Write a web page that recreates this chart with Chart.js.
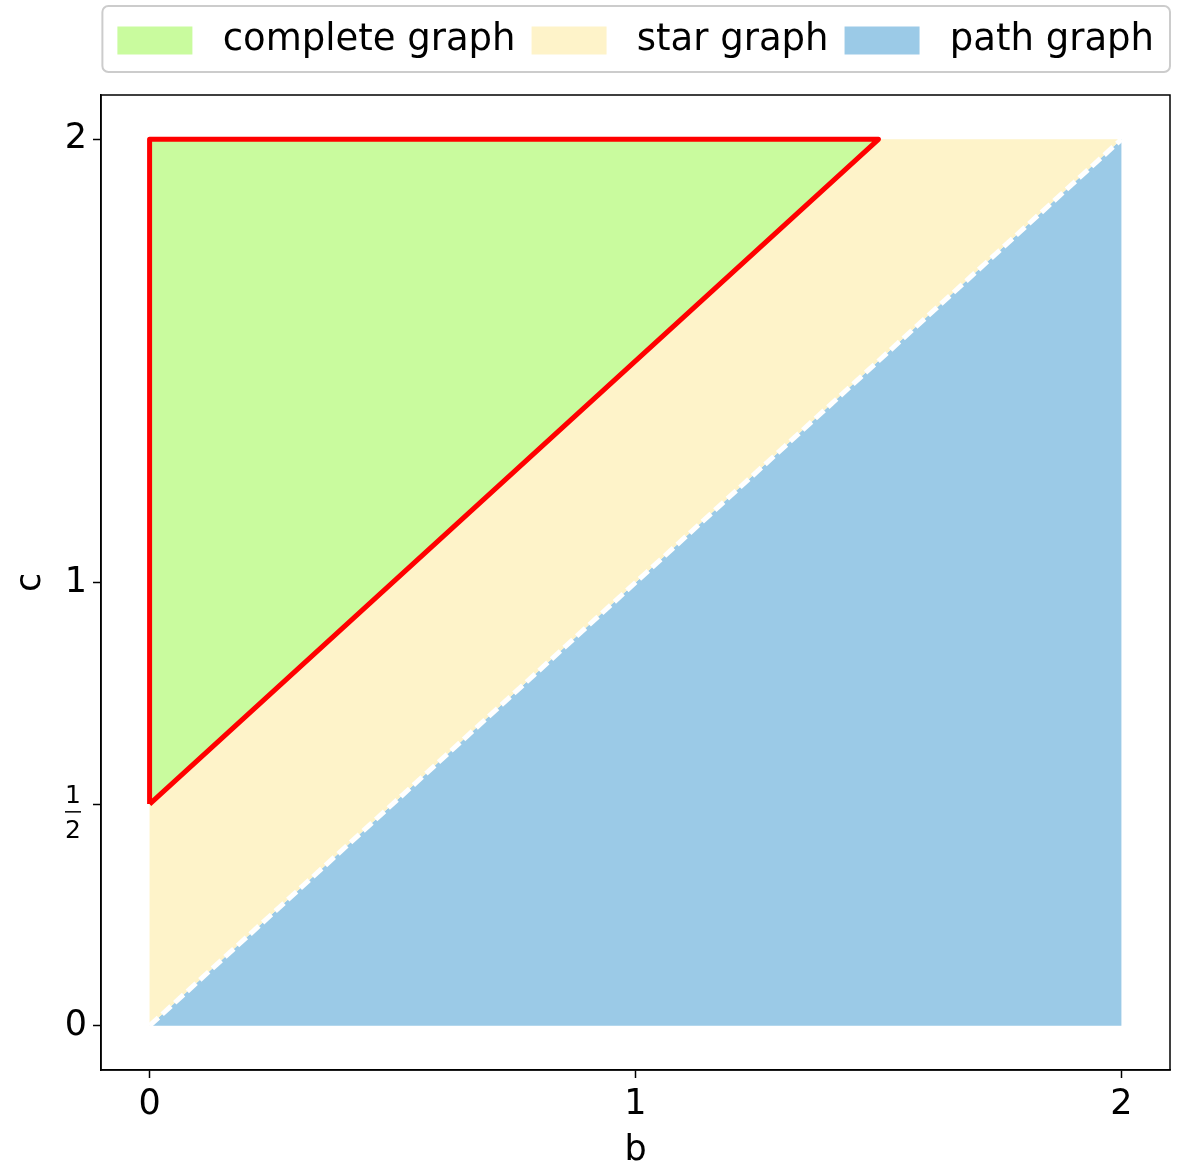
<!DOCTYPE html>
<html>
<head>
<meta charset="utf-8">
<script src="https://cdn.jsdelivr.net/npm/chart.js@4.4.0/dist/chart.umd.min.js"></script>
<style>
  html, body { margin: 0; padding: 0; background: #fff; }
  #wrap { width: 1187px; height: 1172px; }
</style>
</head>
<body>
<div id="wrap"><canvas id="regionChart"></canvas></div>
<script>
// region corners in the (b, c) plane
var completeB = [0, 0, 1.5, 0];
var completeC = [0.5, 2, 2, 0.5];
var starB = [0, 0, 1.5, 2, 0];
var starC = [0, 0.5, 2, 2, 0];
var pathB = [0, 2, 2, 0];
var pathC = [0, 2, 0, 0];
var diagB = [0, 2];
var diagC = [0, 2];

var xTicks = [0, 1, 2];
var yTicks = [0, 0.5, 1, 2];
var labels = ['complete graph', 'star graph', 'path graph'];

function pts(bs, cs) {
  return bs.map(function(b, i) { return {x: b, y: cs[i]}; });
}

var FONT = "'DejaVu Sans', sans-serif";

// extra room under the legend
var legendGap = {
  id: 'legendGap',
  beforeInit: function(chart) {
    var fit = chart.legend.fit;
    chart.legend.fit = function() {
      fit.bind(chart.legend)();
      this.height += 26;
    };
  }
};

// draws the 1/2 tick label, the box frame and the legend frame
var extras = {
  id: 'extras',
  afterDraw: function(chart) {
    var ctx = chart.ctx;
    var a = chart.chartArea;
    ctx.save();
    ctx.strokeStyle = '#000';
    ctx.lineWidth = 1.5;
    ctx.strokeRect(a.left, a.top, a.right - a.left, a.bottom - a.top);

    // fraction label
    var y = chart.scales.y.getPixelForValue(0.5);
    ctx.fillStyle = '#000';
    ctx.font = '25px ' + FONT;
    ctx.textAlign = 'center';
    ctx.textBaseline = 'alphabetic';
    ctx.fillText('1', 73, y - 1);
    ctx.fillText('2', 73, y + 34);
    ctx.fillRect(65, y + 7, 16, 1.5);

    // legend frame
    var boxes = chart.legend.legendHitBoxes;
    if (boxes && boxes.length) {
      var last = boxes[boxes.length - 1];
      var l = boxes[0].left - 15, r = last.left + last.width + 16;
      ctx.strokeStyle = '#cccccc';
      ctx.lineWidth = 2;
      ctx.beginPath();
      ctx.roundRect(l, 6, r - l, 66, 6);
      ctx.stroke();
    }
    ctx.restore();
  }
};

var ctx = document.getElementById('regionChart');
var regionChart = new Chart(ctx, {
  type: 'scatter',
  data: {
    datasets: [
      {
        label: 'outline',
        data: pts(completeB, completeC),
        showLine: true,
        fill: false,
        borderColor: '#ff0000',
        borderWidth: 5,
        borderJoinStyle: 'round',
        pointRadius: 0,
        order: 0
      },
      {
        label: 'diagonal',
        data: pts(diagB, diagC),
        showLine: true,
        fill: false,
        borderColor: '#ffffff',
        borderWidth: 5,
        borderDash: [12, 5],
        pointRadius: 0,
        order: 1
      },
      {
        label: labels[0],
        data: pts(completeB, completeC),
        showLine: true,
        fill: 'shape',
        backgroundColor: '#c9fb9e',
        borderColor: 'rgba(0,0,0,0)',
        borderWidth: 0,
        pointRadius: 0,
        order: 2
      },
      {
        label: labels[1],
        data: pts(starB, starC),
        showLine: true,
        fill: 'shape',
        backgroundColor: '#fef3c9',
        borderColor: 'rgba(0,0,0,0)',
        borderWidth: 0,
        pointRadius: 0,
        order: 3
      },
      {
        label: labels[2],
        data: pts(pathB, pathC),
        showLine: true,
        fill: 'shape',
        backgroundColor: '#9bcae7',
        borderColor: 'rgba(0,0,0,0)',
        borderWidth: 0,
        pointRadius: 0,
        order: 4
      }
    ]
  },
  options: {
    responsive: true,
    maintainAspectRatio: false,
    animation: false,
    layout: { padding: { top: 6, right: 17, left: 10, bottom: 0 } },
    plugins: {
      tooltip: { enabled: false },
      filler: { drawTime: 'beforeDatasetsDraw' },
      legend: {
        position: 'top',
        align: 'end',
        labels: {
          filter: function(item) { return item.datasetIndex >= 2; },
          generateLabels: function(chart) {
            var items = Chart.defaults.plugins.legend.labels.generateLabels(chart);
            items.forEach(function(it) { it.text = ' ' + it.text; });
            return items;
          },
          boxWidth: 75,
          boxHeight: 28,
          padding: 16,
          color: '#000',
          font: { family: FONT, size: 37 }
        }
      }
    },
    scales: {
      x: {
        type: 'linear',
        min: -0.1,
        max: 2.1,
        afterBuildTicks: function(s) { s.ticks = xTicks.map(function(v) { return {value: v}; }); },
        ticks: { color: '#000', font: { family: FONT, size: 35 }, padding: 6 },
        grid: { drawOnChartArea: false, tickLength: 8, tickColor: '#000', tickWidth: 1.5 },
        border: { color: '#000', width: 1.5 },
        title: { display: true, text: 'b', color: '#000', font: { family: FONT, size: 35 }, padding: { top: 2, bottom: 0 } },
        afterFit: function(s) { s.height = 102; }
      },
      y: {
        type: 'linear',
        min: -0.1,
        max: 2.1,
        afterBuildTicks: function(s) { s.ticks = yTicks.map(function(v) { return {value: v}; }); },
        ticks: {
          color: '#000',
          font: { family: FONT, size: 35 },
          padding: 6,
          callback: function(v) { return v === 0.5 ? '' : String(v); }
        },
        grid: { drawOnChartArea: false, tickLength: 8, tickColor: '#000', tickWidth: 1.5 },
        border: { color: '#000', width: 1.5 },
        title: { display: true, text: 'c', color: '#000', font: { family: FONT, size: 35 }, padding: 0 },
        afterFit: function(s) { s.width = 91; }
      }
    }
  },
  plugins: [legendGap, extras]
});
</script>
</body>
</html>
